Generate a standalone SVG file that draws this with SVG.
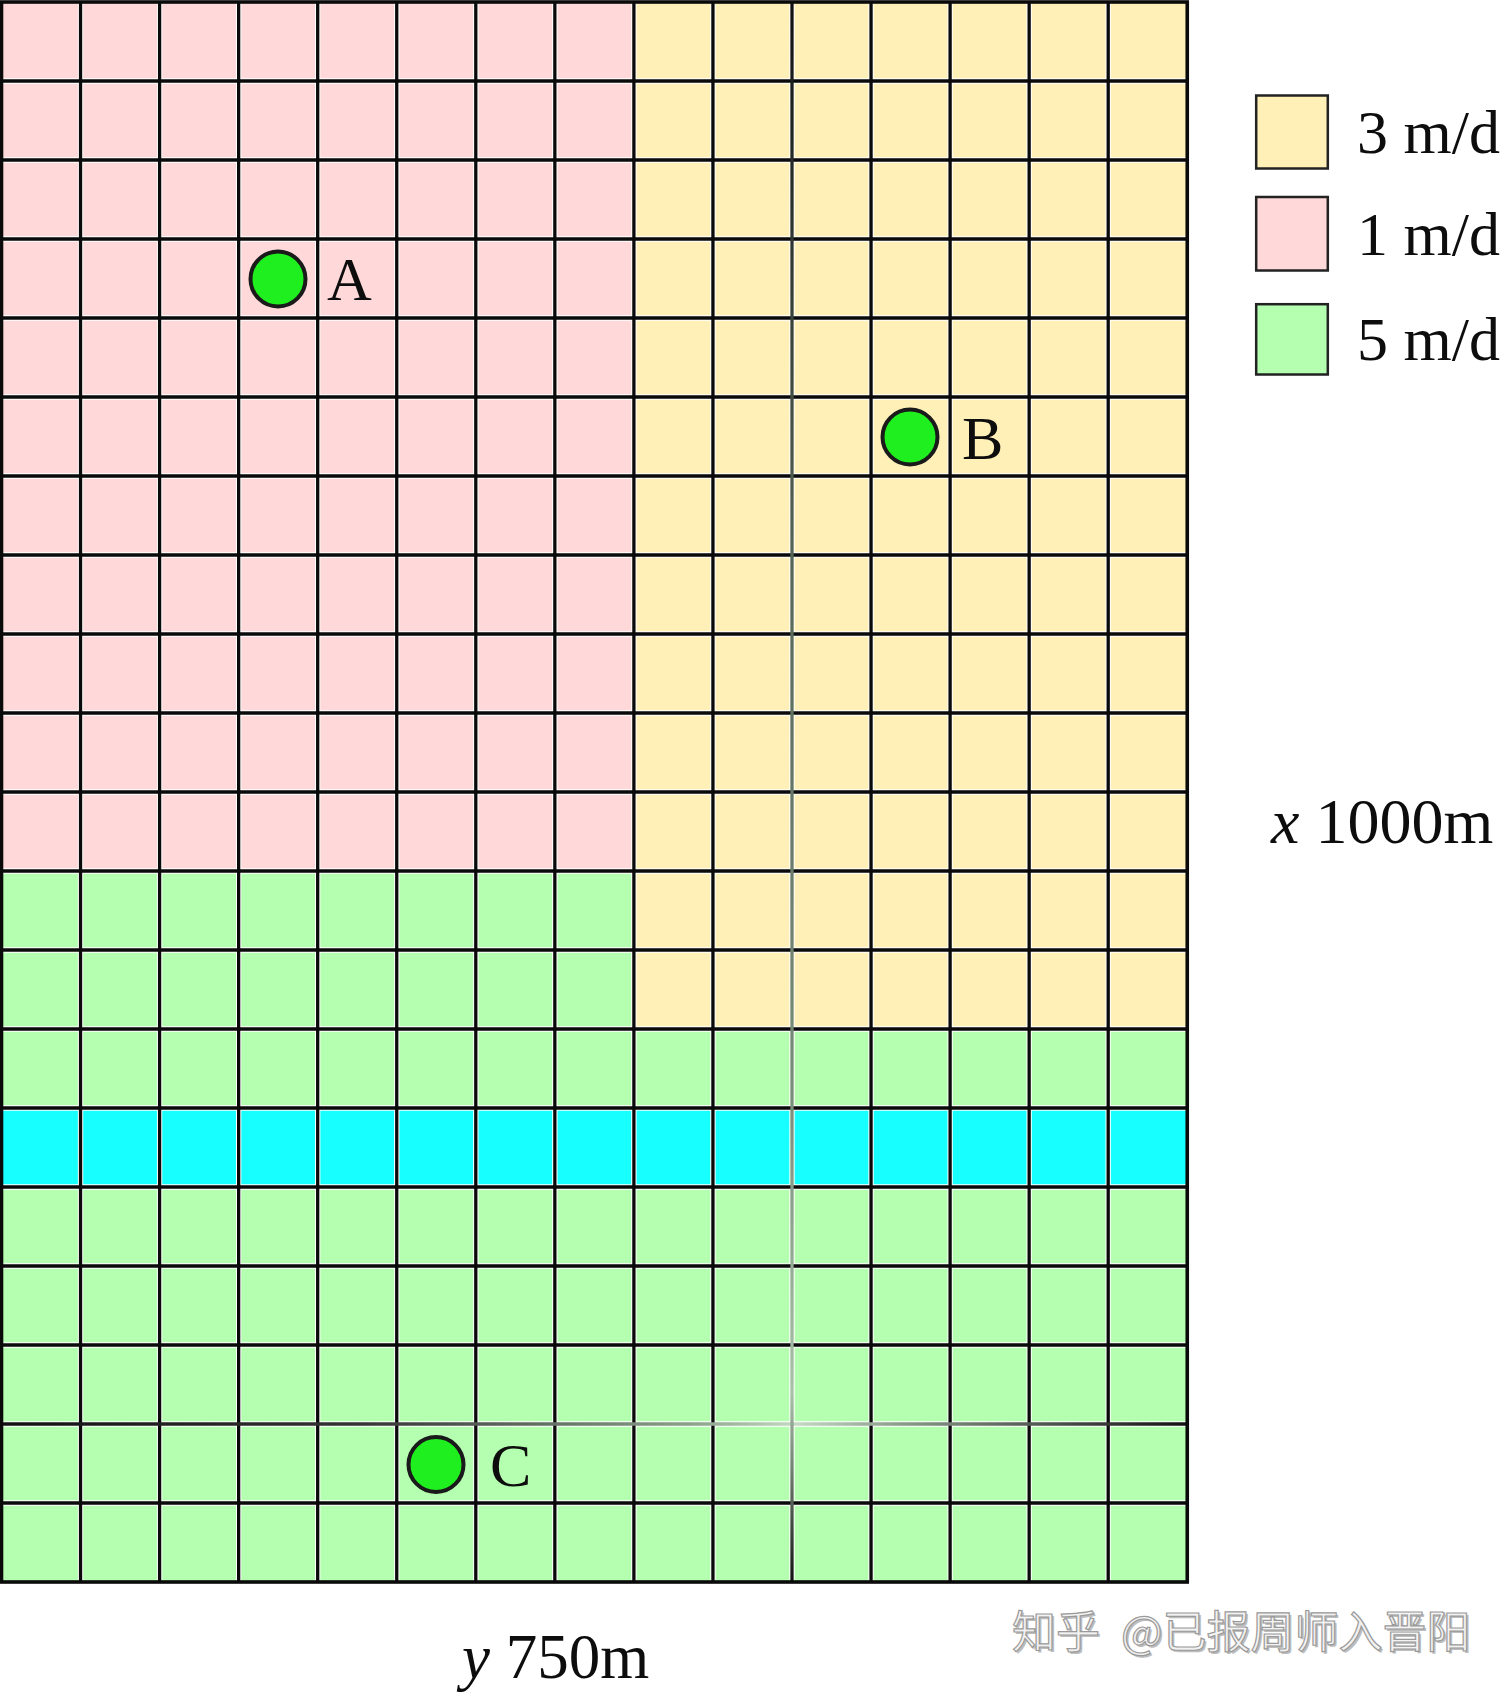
<svg xmlns="http://www.w3.org/2000/svg" width="1502" height="1693" viewBox="0 0 1502 1693">
<defs>
<style>
.grid{fill:none;stroke:#0a0a0a;stroke-width:3.3}
.gap{fill:none;stroke:#ffffff;stroke-width:5.3}
.lbl{font-family:"Liberation Serif","Times New Roman",serif;font-size:62px;fill:#0d0d0d}
.well{fill:#1fee1f;stroke:#1a1a1a;stroke-width:4}
.leg{stroke:#222;stroke-width:2.5}
.wm{font-family:"Noto Sans CJK SC","Noto Sans",sans-serif;font-size:44px}
</style>
<linearGradient id="gv" gradientUnits="userSpaceOnUse" x1="0" y1="2" x2="0" y2="1582">
<stop offset="0" stop-color="#111"/>
<stop offset="0.12" stop-color="#2a2f2a"/>
<stop offset="0.35" stop-color="#556655"/>
<stop offset="0.7" stop-color="#7a8f7a"/>
<stop offset="0.88" stop-color="#a8c0a8"/>
<stop offset="0.93" stop-color="#6f806f"/>
<stop offset="1" stop-color="#111"/>
</linearGradient>
<linearGradient id="gh" gradientUnits="userSpaceOnUse" x1="1.5" y1="0" x2="1187" y2="0">
<stop offset="0" stop-color="#111"/>
<stop offset="0.3" stop-color="#333"/>
<stop offset="0.58" stop-color="#8aa08a"/>
<stop offset="0.67" stop-color="#c4d8c4"/>
<stop offset="0.76" stop-color="#8a9a8a"/>
<stop offset="0.97" stop-color="#222"/>
<stop offset="1" stop-color="#111"/>
</linearGradient>
</defs>
<rect width="1502" height="1693" fill="#ffffff"/>
<g id="regions">
<rect x="1.5" y="2" width="632.4" height="869" fill="#ffd9d9"/>
<rect x="633.9" y="2" width="553.35" height="1027" fill="#fff0b8"/>
<rect x="1.5" y="871" width="632.4" height="237" fill="#b5ffb0"/>
<rect x="633.9" y="1029" width="553.35" height="79" fill="#b5ffb0"/>
<rect x="1.5" y="1108" width="1185.75" height="79" fill="#18ffff"/>
<rect x="1.5" y="1187" width="1185.75" height="395" fill="#b5ffb0"/>
</g>
<g id="gaps">
<path class="gap" d="M80.55 2V1582M159.6 2V1582M238.65 2V1582M317.7 2V1582M396.75 2V1582M475.8 2V1582M554.85 2V1582M633.9 2V1582M712.95 2V1582M792 2V1582M871.05 2V1582M950.1 2V1582M1029.15 2V1582M1108.2 2V1582M1.5 81H1187.25M1.5 160H1187.25M1.5 239H1187.25M1.5 318H1187.25M1.5 397H1187.25M1.5 476H1187.25M1.5 555H1187.25M1.5 634H1187.25M1.5 713H1187.25M1.5 792H1187.25M1.5 871H1187.25M1.5 950H1187.25M1.5 1029H1187.25M1.5 1108H1187.25M1.5 1187H1187.25M1.5 1266H1187.25M1.5 1345H1187.25M1.5 1424H1187.25M1.5 1503H1187.25"/>
</g>
<g id="gridlines">
<path class="grid" d="M80.55 2V1582M159.6 2V1582M238.65 2V1582M317.7 2V1582M396.75 2V1582M475.8 2V1582M554.85 2V1582M633.9 2V1582M712.95 2V1582M871.05 2V1582M950.1 2V1582M1029.15 2V1582M1108.2 2V1582M1.5 81H1187.25M1.5 160H1187.25M1.5 239H1187.25M1.5 318H1187.25M1.5 397H1187.25M1.5 476H1187.25M1.5 555H1187.25M1.5 634H1187.25M1.5 713H1187.25M1.5 792H1187.25M1.5 871H1187.25M1.5 950H1187.25M1.5 1029H1187.25M1.5 1108H1187.25M1.5 1187H1187.25M1.5 1266H1187.25M1.5 1345H1187.25M1.5 1503H1187.25"/>
<path d="M1.5 1424H1187.25" fill="none" stroke="url(#gh)" stroke-width="3.3"/>
<path d="M792 2V1582" fill="none" stroke="url(#gv)" stroke-width="3.3"/>
<rect x="1.5" y="2" width="1185.75" height="1580" fill="none" stroke="#0a0a0a" stroke-width="3.6"/>
</g>
<g id="well-A">
<circle class="well" cx="278" cy="279" r="27.5"/>
<text class="lbl" x="327" y="300">A</text>
</g>
<g id="well-B">
<circle class="well" cx="910" cy="437" r="27.5"/>
<text class="lbl" x="962" y="459">B</text>
</g>
<g id="well-C">
<circle class="well" cx="436" cy="1464.5" r="27.5"/>
<text class="lbl" x="490" y="1486">C</text>
</g>
<g id="legend">
<rect class="leg" x="1256.2" y="95.5" width="71.6" height="73" fill="#fff0b8"/>
<text class="lbl" x="1357" y="153">3 m/d</text>
<rect class="leg" x="1256.2" y="197" width="71.6" height="73.5" fill="#ffd9d9"/>
<text class="lbl" x="1357" y="255">1 m/d</text>
<rect class="leg" x="1256.2" y="304.2" width="71.6" height="70.3" fill="#b5ffb0"/>
<text class="lbl" x="1357" y="360">5 m/d</text>
</g>
<g id="axis-labels">
<text class="lbl" x="1271" y="843" style="font-size:64px"><tspan font-style="italic">x</tspan> 1000m</text>
<text class="lbl" x="462" y="1678" style="font-size:63px"><tspan font-style="italic">y</tspan> 750m</text>
</g>
<g id="watermark">
<text class="wm" x="1014" y="1650" fill="#bdbdbd">知乎</text>
<text class="wm" x="1012" y="1648" fill="#f2f2f2" stroke="#9a9a9a" stroke-width="1.2">知乎</text>
<text class="wm" x="1123" y="1650" fill="#bdbdbd">@已报周师入晋阳</text>
<text class="wm" x="1121" y="1648" fill="#f2f2f2" stroke="#9a9a9a" stroke-width="1.2">@已报周师入晋阳</text>
</g>
</svg>
